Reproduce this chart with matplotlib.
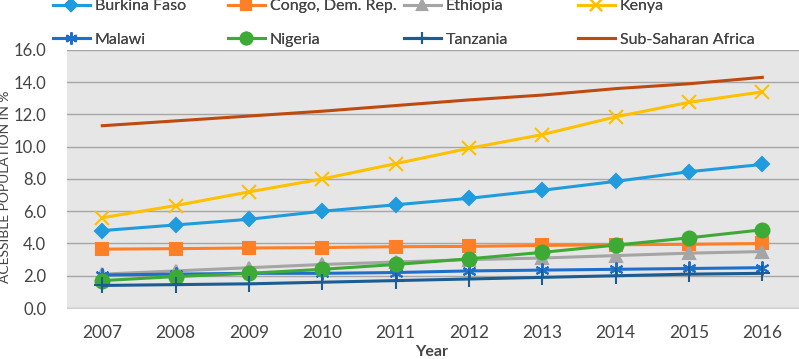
import numpy as np
import matplotlib.pyplot as plt

plt.rcParams['font.family'] = ['Lato', 'DejaVu Sans']

years = ["2007", "2008", "2009", "2010", "2011", "2012", "2013", "2014", "2015", "2016"]

burkina = [4.8, 5.15, 5.5, 6.0, 6.4, 6.8, 7.3, 7.85, 8.45, 8.9]
congo = [3.65, 3.68, 3.72, 3.75, 3.8, 3.82, 3.88, 3.92, 3.95, 4.0]
ethiopia = [2.1, 2.3, 2.5, 2.7, 2.85, 3.0, 3.1, 3.25, 3.4, 3.5]
kenya = [5.6, 6.35, 7.2, 8.0, 8.95, 9.9, 10.75, 11.85, 12.75, 13.4]
malawi = [2.05, 2.1, 2.15, 2.15, 2.2, 2.3, 2.35, 2.4, 2.45, 2.5]
nigeria = [1.7, 1.95, 2.15, 2.4, 2.7, 3.05, 3.45, 3.9, 4.35, 4.85]
tanzania = [1.4, 1.45, 1.5, 1.6, 1.7, 1.8, 1.9, 2.0, 2.1, 2.15]
ssa = [11.3, 11.6, 11.9, 12.2, 12.55, 12.9, 13.2, 13.6, 13.9, 14.3]

fig = plt.figure(figsize=(7.99, 3.59), dpi=100)
ax = fig.add_axes([0.084, 0.142, 0.916, 0.719])
ax.set_facecolor("#E7E6E6")

x = np.arange(len(years))
# (name, data, colour, marker, size)
series = [
    ("Burkina Faso", burkina, "#1F9BDE", "D", 7),
    ("Congo, Dem. Rep.", congo, "#FF7F27", "s", 9),
    ("Ethiopia", ethiopia, "#A5A5A5", "^", 9),
    ("Kenya", kenya, "#FFC000", "x", 10),
    ("Malawi", malawi, "#1E6FCC", (6, 2, 0), 10),
    ("Nigeria", nigeria, "#3DAA35", "o", 10),
    ("Tanzania", tanzania, "#1A5D94", "+", 11),
    ("Sub-Saharan Africa", ssa, "#BE4A10", None, 0),
]
lines = []
for name, vals, c, m, ms in series:
    ln, = ax.plot(x, vals, color=c, lw=2.2, marker=m, ms=ms, mew=1.5,
                  label=name, zorder=3)
    lines.append(ln)

ax.set_xlim(-0.48, 9.5)
ax.set_ylim(0, 16)
ax.set_yticks(np.arange(0, 17, 2))
ax.set_yticklabels(["%.1f" % v for v in np.arange(0, 17, 2)], fontsize=12, color="#444444")
ax.set_xticks(x)
ax.set_xticklabels(years, fontsize=12.5, color="#444444")
ax.tick_params(axis="x", length=0, pad=12)
ax.tick_params(axis="y", length=0, pad=15)
ax.grid(axis="y", color="#A6A6A6", lw=1)
ax.set_axisbelow(True)
for s in ax.spines.values():
    s.set_visible(False)
ax.spines["bottom"].set_visible(True)
ax.spines["bottom"].set_color("#D0D0D0")

ax.set_ylabel("ACESSIBLE POPULATION IN %", fontsize=10, color="#444444")
ax.yaxis.set_label_coords(-0.076, 0.47)
fig.text(0.54, 0.0, "Year", fontsize=11.5, fontweight="bold", color="#444444",
         ha="center", va="bottom")

# legend: four columns at fixed x positions, two rows each
col_x = [53, 228, 404, 578]
for i, cx in enumerate(col_x):
    leg = fig.legend(handles=[lines[i], lines[i + 4]], loc="upper left",
                     bbox_to_anchor=(cx / 799, 1.0 + 1 / 359), frameon=False,
                     fontsize=11.5, handlelength=2.3, handletextpad=0.3,
                     borderaxespad=0, borderpad=0, labelspacing=1.2,
                     markerscale=0.85, labelcolor="#444444")
    fig.add_artist(leg)

fig.savefig("out.png", dpi=100)
